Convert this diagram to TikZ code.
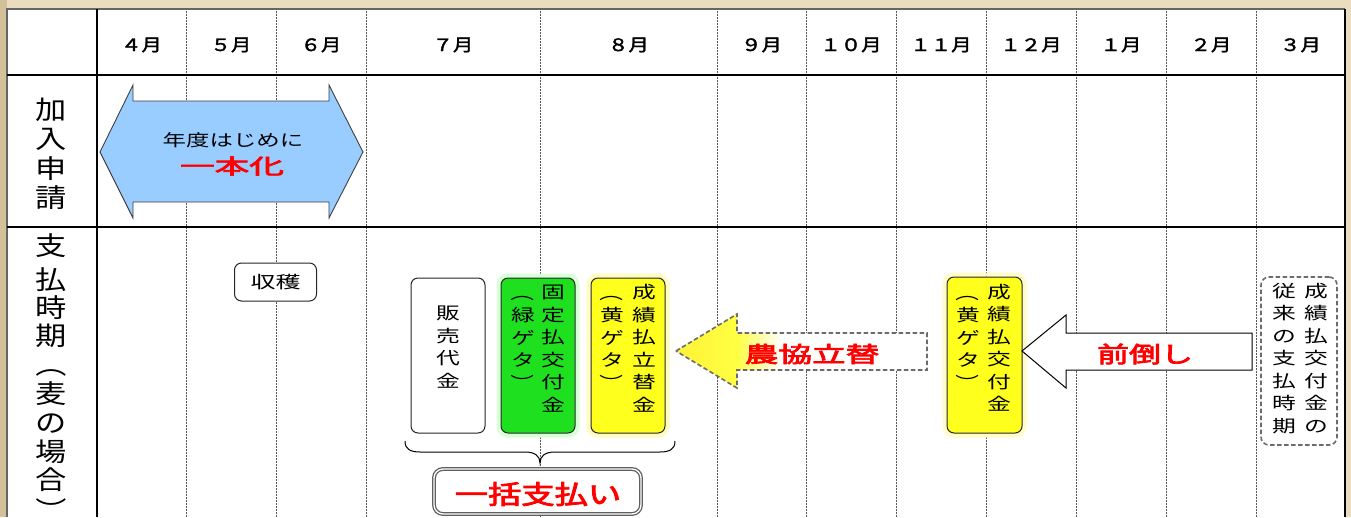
\documentclass[tikz,border=0pt]{standalone}
\usepackage{fontspec}
\usepackage{graphicx}
\newfontfamily\cjk{Noto Sans CJK JP}
\newfontfamily\cjkb[FakeBold=3]{Noto Sans CJK JP}
\newfontfamily\cjkm[FakeBold=2]{Noto Sans CJK JP}
\newcommand{\sx}[2]{\scalebox{#1}[1]{#2}}
\newcommand{\vstack}[1]{\begin{tabular}{@{}c@{}}#1\end{tabular}}
\newcommand{\vlp}{\rotatebox[origin=c]{-90}{（}}
\newcommand{\vrp}{\rotatebox[origin=c]{-90}{）}}
\definecolor{bgtan}{HTML}{EADDBF}
\definecolor{bgleft}{HTML}{D3C19A}
\definecolor{arrowblue}{HTML}{99CCFF}
\definecolor{ggreen}{HTML}{1EE01E}
\definecolor{yfill}{HTML}{FFFF1E}
\definecolor{ytip}{HTML}{FFF23A}
\pgfdeclarehorizontalshading{yfade}{100bp}{color(0bp)=(ytip); color(25bp)=(ytip); color(37bp)=(yfill!85); color(46bp)=(white); color(100bp)=(white)}
\begin{document}
\begin{tikzpicture}[x=1pt,y=-1pt,
  dotline/.style={draw=black!65, line width=0.7pt, dash pattern=on 0.7pt off 0.8pt},
  gridline/.style={draw=black, line width=1.7pt},
  tbox/.style={draw=black!85, line width=1pt, rounded corners=7pt},
  plain/.style={inner sep=0pt, text=black},
  monthtxt/.style={plain, font=\cjkm\fontsize{17}{17}\selectfont},
  headtxt/.style={plain, font=\cjk\fontsize{26}{26}\selectfont},
  boxtxt/.style={plain, font=\cjk\fontsize{17}{22.5}\selectfont},
  redtxt/.style={inner sep=0pt, text=red},
  dashedge/.style={draw=gray!85!black, line width=1.6pt, dash pattern=on 4.5pt off 2.5pt},
]
\useasboundingbox (0,0) rectangle (1351,517);
% background
\fill[bgtan] (0,0) rectangle (1351,517);
\fill[bgleft] (0,0) rectangle (7,517);
\fill[white] (7,9) rectangle (1345,517);
% dotted month lines
\foreach \x in {186,276,366,540,717,806,896,986,1076,1166,1256}
  \draw[dotline] (\x,9) -- (\x,517);
% grid
\draw[draw=black!60, line width=1.4pt] (7,517) -- (7,9) -- (1345,9);
\draw[gridline] (1345,9) -- (1345,517);
\draw[gridline] (97,9) -- (97,517);
\draw[gridline] (7,75) -- (1345,75);
\draw[gridline] (7,227) -- (1345,227);
% months
\foreach \x/\m [count=\i] in {141.5/４, 231/５, 321/６, 453/７, 628.5/８, 761.5/９, 851/１０, 941/１１, 1031/１２, 1121/１, 1211/２, 1300.5/３}
  \node[monthtxt] (m\i) at (\x,45) {\sx{1.2}{\m 月}};
% row headers
\foreach \c/\y [count=\i] in {加/110, 入/139, 申/169, 請/198}
  \node[headtxt] (ha\i) at (51,\y) {\sx{1.2}{\c}};
\foreach \c/\y [count=\i] in {支/246, 払/280, 時/308, 期/336, \vlp/364, 麦/394, の/424, 場/452, 合/480, \vrp/510}
  \node[headtxt] (hb\i) at (51,\y) {\sx{1.2}{\c}};
% blue double arrow
\draw[draw=black!75, line width=0.9pt, fill=arrowblue]
  (100,152) -- (133,85) -- (133,101) -- (329,101) -- (329,85) -- (363,152)
  -- (329,218) -- (329,202) -- (133,202) -- (133,218) -- cycle;
\node[plain, font=\cjk\fontsize{16.5}{16.5}\selectfont] (t1) at (233,140) {\sx{1.42}{年度はじめに}};
\node[redtxt, font=\cjkb\fontsize{21}{21}\selectfont] (t2) at (232,166) {\sx{1.65}{一本化}};
% harvest
\node[tbox, fill=white, minimum width=82pt, minimum height=38pt, inner sep=0pt,
  font=\cjk\fontsize{17}{17}\selectfont] (harvest) at (275.5,282) {\sx{1.47}{収穫}};
% payment boxes
\node[tbox, fill=white, minimum width=74pt, minimum height=155pt] (sales) at (448,355.5) {};
\draw[green!15, line width=4pt, rounded corners=9pt] (498.5,275.5) rectangle (577.5,435.5);
\node[tbox, fill=ggreen, minimum width=74pt, minimum height=155pt] (fixed) at (538,355.5) {};
\draw[yellow!25, line width=4pt, rounded corners=9pt] (588.5,275.5) rectangle (667.5,435.5);
\node[tbox, fill=yfill, minimum width=74pt, minimum height=155pt] (yel1) at (628,355.5) {};
\draw[yellow!22, line width=4pt, rounded corners=9pt] (944.5,274.5) rectangle (1024.5,435.5);
\node[tbox, fill=yfill, minimum width=75pt, minimum height=156pt] (yel2) at (984.5,355) {};
\node[dashedge, rounded corners=8pt, fill=white, minimum width=76pt, minimum height=168pt] (old) at (1299,361) {};
% texts in boxes
\node[boxtxt] (s1) at (448,349) {\sx{1.4}{\vstack{販\\売\\代\\金}}};
\node[boxtxt] (f1) at (553,350.5) {\sx{1.4}{\vstack{固\\定\\払\\交\\付\\金}}};
\node[boxtxt] (f2) at (523,339.5) {\sx{1.4}{\vstack{\vlp\\緑\\ゲ\\タ\\\vrp}}};
\node[boxtxt] (y1a) at (644,350.5) {\sx{1.4}{\vstack{成\\績\\払\\立\\替\\金}}};
\node[boxtxt] (y1b) at (612,339.5) {\sx{1.4}{\vstack{\vlp\\黄\\ゲ\\タ\\\vrp}}};
\node[boxtxt] (y2a) at (999,350) {\sx{1.4}{\vstack{成\\績\\払\\交\\付\\金}}};
\node[boxtxt] (y2b) at (968,339.5) {\sx{1.4}{\vstack{\vlp\\黄\\ゲ\\タ\\\vrp}}};
\node[boxtxt] (o1) at (1316,360) {\sx{1.4}{\vstack{成\\績\\払\\交\\付\\金\\の}}};
\node[boxtxt] (o2) at (1284,360) {\sx{1.4}{\vstack{従\\来\\の\\支\\払\\時\\期}}};
% brace
\draw[black, line width=1pt]
  (405,441) .. controls (405,449) and (410,452) .. (420,452) -- (525,452)
  .. controls (535,452) and (540,456) .. (540,463)
  .. controls (540,456) and (545,452) .. (555,452) -- (660,452)
  .. controls (670,452) and (675,449) .. (675,441);
% lump-sum box
\draw[draw=gray!75!black, double=white, line width=1.3pt, double distance=1.3pt, rounded corners=9pt, fill=white]
  (434,469) rectangle (641,514);
\node[redtxt, font=\cjkb\fontsize{26}{26}\selectfont] (lump) at (538,494) {\sx{1.28}{一括支払い}};
% yellow (dashed) arrow
\shadedraw[shading=yfade, dashedge]
  (676,351) -- (737,314) -- (737,333) -- (927,333) -- (927,370) -- (737,370) -- (737,388) -- cycle;
\node[redtxt, font=\cjkb\fontsize{22}{22}\selectfont] (nokyo) at (812,354) {\sx{1.53}{農協立替}};
% white arrow
\draw[draw=black, line width=1pt, fill=white]
  (1022,351) -- (1066,315) -- (1066,333) -- (1252,333) -- (1252,370) -- (1066,370) -- (1066,388) -- cycle;
\node[redtxt, font=\cjkb\fontsize{22.5}{22.5}\selectfont] (mae) at (1145,354) {\sx{1.42}{前倒し}};
\end{tikzpicture}
\end{document}
